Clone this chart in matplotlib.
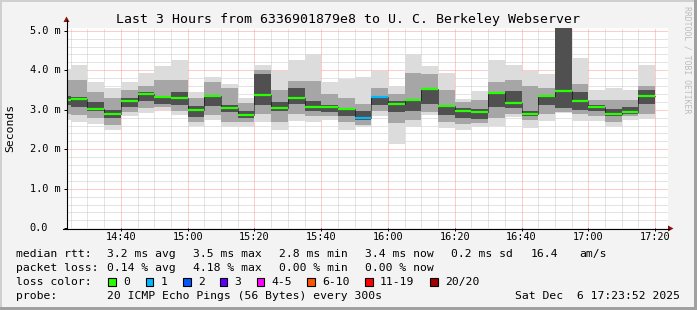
import numpy as np
import matplotlib
matplotlib.use("Agg")
import matplotlib.pyplot as plt
from matplotlib.patches import Rectangle, Polygon
from matplotlib.lines import Line2D

W, H = 697, 310
MONO = "DejaVu Sans Mono"

# 5 minute slots, minutes after 14:00 (first slot is cut by the 3h window)
slot_start = np.arange(20, 200, 5)

median_ms = [3.25, 3.28, 3.03, 2.89, 3.23, 3.40, 3.32, 3.30, 2.99, 3.35, 3.05, 2.88,
             3.38, 3.05, 3.30, 3.08, 3.08, 3.03, 2.79, 3.32, 3.15, 3.25, 3.53, 3.10,
             2.96, 2.95, 3.43, 3.18, 2.89, 3.35, 3.48, 3.21, 3.07, 2.89, 2.94, 3.35]
lost_pings = [0, 0, 0, 0, 0, 0, 0, 0, 0, 0, 0, 0, 0, 0, 0, 0, 0, 0,
              1, 1, 0, 0, 0, 0, 0, 0, 0, 0, 0, 0, 0, 0, 0, 0, 0, 0]

# smoke: outer (all pings), middle and core spread
outer_lo = [2.74, 2.70, 2.65, 2.49, 2.83, 2.93, 2.99, 2.87, 2.59, 2.74, 2.56, 2.57,
            2.70, 2.49, 2.72, 2.70, 2.74, 2.50, 2.56, 2.85, 2.14, 2.56, 2.88, 2.53,
            2.50, 2.57, 2.59, 2.81, 2.55, 2.72, 2.91, 2.72, 2.72, 2.56, 2.74, 2.76]
outer_hi = [4.02, 4.14, 3.70, 3.56, 3.70, 3.94, 4.11, 4.26, 3.46, 3.84, 3.65, 3.30,
            4.14, 3.97, 4.26, 4.40, 3.71, 3.79, 3.84, 3.99, 3.60, 4.41, 4.11, 3.94,
            3.28, 3.48, 4.26, 4.14, 3.99, 3.91, 5.20, 4.30, 3.50, 3.54, 3.50, 4.14]
mid_lo = [2.90, 2.87, 2.80, 2.62, 2.95, 3.05, 3.08, 2.98, 2.70, 2.87, 2.70, 2.70,
          2.90, 2.70, 2.90, 2.85, 2.85, 2.70, 2.62, 2.98, 2.66, 2.74, 2.95, 2.70,
          2.65, 2.66, 2.80, 2.90, 2.74, 2.90, 2.95, 2.90, 2.85, 2.70, 2.85, 2.90]
mid_hi = [3.75, 3.76, 3.45, 3.30, 3.50, 3.60, 3.75, 3.75, 3.30, 3.70, 3.55, 3.18,
          4.00, 3.50, 3.72, 3.72, 3.40, 3.30, 3.15, 3.55, 3.40, 3.94, 3.90, 3.50,
          3.20, 3.25, 3.70, 3.75, 3.60, 3.55, 5.20, 3.65, 3.25, 3.25, 3.25, 3.60]
core_lo = [3.12, 3.08, 2.96, 2.78, 3.08, 3.22, 3.15, 3.12, 2.82, 3.10, 2.95, 2.80,
           3.12, 2.96, 3.15, 2.96, 2.95, 2.85, 2.74, 3.12, 2.95, 2.96, 3.15, 2.87,
           2.80, 2.76, 3.08, 3.05, 2.83, 3.12, 3.04, 3.00, 2.96, 2.85, 2.90, 3.15]
core_hi = [3.35, 3.33, 3.20, 3.00, 3.30, 3.45, 3.35, 3.45, 3.10, 3.38, 3.12, 2.96,
           3.90, 3.20, 3.55, 3.22, 3.12, 3.05, 2.98, 3.33, 3.21, 3.25, 3.54, 3.12,
           3.04, 3.02, 3.46, 3.48, 2.97, 3.38, 5.20, 3.45, 3.12, 3.02, 3.06, 3.50]

loss_colors = ["#26ff00", "#00b8ff", "#0059ff", "#5e00ff", "#ff00ff", "#ff5500", "#ff0000", "#a10000"]
loss_labels = ["0", "1", "2", "3", "4-5", "6-10", "11-19", "20/20"]

x_major = [40, 60, 80, 100, 120, 140, 160, 180, 200]
x_major_labels = ["14:40", "15:00", "15:20", "15:40", "16:00", "16:20", "16:40", "17:00", "17:20"]
y_major = [0, 1, 2, 3, 4, 5]
y_major_labels = ["0.0", "1.0 m", "2.0 m", "3.0 m", "4.0 m", "5.0 m"]

t0, t1 = 23 + 52 / 60, 203 + 52 / 60


def fx(x):
    return x / W


def fy(y):
    return 1 - y / H


def ftext(x, y, s, **kw):
    kw.setdefault("fontsize", 8.2)
    kw.setdefault("va", "center")
    fig.text(fx(x), fy(y), s, fontfamily=MONO, **kw)


fig = plt.figure(figsize=(W / 100, H / 100), dpi=100)
fig.patch.set_facecolor("#f3f3f3")
ax = fig.add_axes([fx(67), fy(228.3), 601 / W, 200.3 / H])
ax.set_facecolor("white")
ax.set_xlim(t0, t1)
ax.set_ylim(0, 5.07)
for s in ax.spines.values():
    s.set_visible(False)

# grid
dots = (0, (1, 1))
for v in np.arange(0.2, 5.0, 0.2):
    if abs(v - round(v)) > 0.01:
        ax.axhline(v, color="#c9c9c9", lw=0.72, ls=dots, zorder=0)
for t in np.arange(25, 205, 5):
    if t % 20 != 0:
        ax.axvline(t, color="#c9c9c9", lw=0.72, ls=dots, zorder=0)
for v in y_major[1:]:
    ax.axhline(v, color="#ff9a9a", lw=0.72, ls=dots, zorder=0)
for t in x_major:
    ax.axvline(t, color="#ff9a9a", lw=0.72, ls=dots, zorder=0)

# smoke
ax.bar(slot_start, np.subtract(outer_hi, outer_lo), bottom=outer_lo, width=5, align="edge",
       color="#dcdcdc", lw=0, zorder=1)
ax.bar(slot_start, np.subtract(mid_hi, mid_lo), bottom=mid_lo, width=5, align="edge",
       color="#a6a6a6", lw=0, zorder=2)
ax.bar(slot_start, np.subtract(core_hi, core_lo), bottom=core_lo, width=5, align="edge",
       color="#505050", lw=0, zorder=3)

# median
edges = np.append(slot_start, slot_start[-1] + 5)
ax.step(edges, np.append(median_ms, median_ms[-1]), where="post", color="black",
        lw=0.72, ls=dots, zorder=4)
ax.hlines(median_ms, slot_start, slot_start + 5, colors=[loss_colors[n] for n in lost_pings],
          lw=1.6, zorder=5)

ax.set_xticks(x_major)
ax.set_yticks(y_major)
ax.set_xticklabels([])
ax.set_yticklabels([])
ax.tick_params(length=2.2, width=0.72, color="black")

for t, lab in zip(x_major, x_major_labels):
    ax.text(t, -(236.5 - 228.3) / 200.3, lab, transform=ax.get_xaxis_transform(),
            ha="center", va="center", fontsize=7.4, fontfamily=MONO)
for v, lab in zip(y_major, y_major_labels):
    ftext(29.5, 228.3 - v * 39.5, lab, fontsize=7.4, ha="left")

# axis lines with arrows
fig.add_artist(Line2D([fx(66.5), fx(66.5)], [fy(229), fy(20)], color="black", lw=0.8))
fig.add_artist(Line2D([fx(63), fx(669)], [fy(228.5), fy(228.5)], color="black", lw=0.8))
fig.add_artist(Polygon([[fx(63.5), fy(22)], [fx(69.5), fy(22)], [fx(66.5), fy(16.5)]],
                       closed=True, color="#8b1010", lw=0))
fig.add_artist(Polygon([[fx(668), fy(225.5)], [fx(668), fy(231.5)], [fx(673.5), fy(228.5)]],
                       closed=True, color="#8b1010", lw=0))

# title and side texts
ftext(348.5, 19, "Last 3 Hours from 6336901879e8 to U. C. Berkeley Webserver", fontsize=9.5, ha="center")
ftext(10.7, 127.5, "Seconds", rotation=90, ha="center")
ftext(686.5, 60, "RRDTOOL / TOBI OETIKER", rotation=270, ha="center", fontsize=5.9, color="#bdbdbd")

# legend rows
ftext(16, 254, "median rtt:")
for x, s in [(107.3, "3.2 ms avg"), (193.3, "3.5 ms max"), (279.3, "2.8 ms min"),
             (365, "3.4 ms now"), (451, "0.2 ms sd"), (530.7, "16.4"), (579.3, "am/s")]:
    ftext(x, 254, s)
ftext(16, 268.3, "packet loss:")
for x, s in [(107.3, "0.14 % avg"), (193.3, "4.18 % max"), (279.3, "0.00 % min"), (365, "0.00 % now")]:
    ftext(x, 268.3, s)
ftext(16, 281.7, "loss color:")
box_x = [108.3, 145.7, 183, 219.7, 256.7, 307.3, 365, 430.3]
for bx, c, lab in zip(box_x, loss_colors, loss_labels):
    fig.add_artist(Rectangle((fx(bx), fy(285.7)), 7.5 / W, 8 / H, facecolor=c,
                             edgecolor="black", lw=0.8))
    ftext(bx + 15, 281.7, lab)
ftext(16, 296, "probe:")
ftext(107.3, 296, "20 ICMP Echo Pings (56 Bytes) every 300s")
ftext(680, 296, "Sat Dec  6 17:23:52 2025", ha="right")

# frame
fig.add_artist(Rectangle((0, 1 - 2 / H), 1, 2 / H, color="#cfcfcf", lw=0))
fig.add_artist(Rectangle((0, 0), 2 / W, 1, color="#cfcfcf", lw=0))
fig.add_artist(Rectangle((0, 0), 1, 3 / H, color="#a0a0a0", lw=0))
fig.add_artist(Rectangle((1 - 3 / W, 0), 3 / W, 1, color="#a0a0a0", lw=0))

fig.savefig("out.png", dpi=100, facecolor=fig.get_facecolor())
